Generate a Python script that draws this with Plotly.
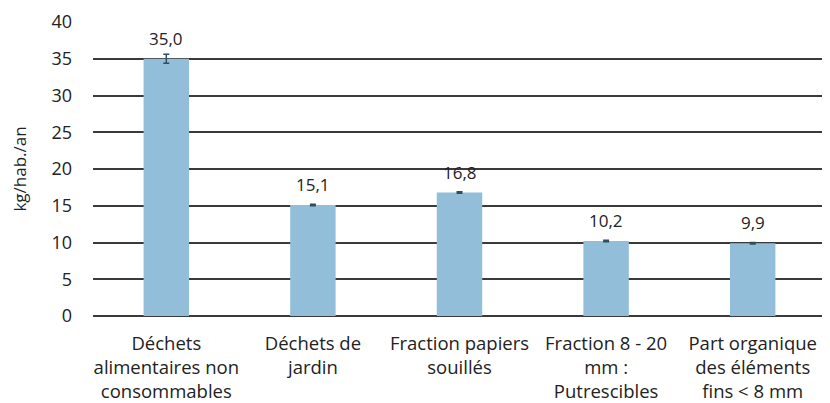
import plotly.graph_objects as go

categories = [
    "Déchets<br>alimentaires non<br>consommables",
    "Déchets de<br>jardin",
    "Fraction papiers<br>souillés",
    "Fraction 8 - 20<br>mm :<br>Putrescibles",
    "Part organique<br>des éléments<br>fins < 8 mm",
]
values = [35.0, 15.1, 16.8, 10.2, 9.9]
errors = [0.6, 0.1, 0.1, 0.1, 0.1]
y_ticks = [0, 5, 10, 15, 20, 25, 30, 35, 40]

FONT = "Open Sans"
TXT = "#222222"

fig = go.Figure()
fig.add_trace(go.Bar(
    x=categories,
    y=values,
    width=0.31,
    marker=dict(color="#92BEDA", line=dict(width=0)),
    error_y=dict(type="data", array=errors, visible=True, color="#2F4F5F",
                 thickness=1.5, width=3),
    hoverinfo="skip",
))

for c, v in zip(categories, values):
    fig.add_annotation(x=c, y=v, text=f"{v:.1f}".replace(".", ","),
                       showarrow=False, yanchor="bottom", yshift=7,
                       font=dict(family=FONT, size=17, color=TXT))

fig.update_layout(
    width=822, height=395,
    margin=dict(l=85, r=4, t=14, b=87, autoexpand=False),
    paper_bgcolor="white", plot_bgcolor="white",
    showlegend=False,
    font=dict(family=FONT, size=17, color=TXT),
)
fig.update_xaxes(showgrid=False, showline=False, ticks="", tickangle=0,
                 automargin=False, ticklabelstandoff=14,
                 tickfont=dict(family=FONT, size=18.5, color=TXT))
fig.update_yaxes(range=[0, 40], tickvals=y_ticks, showgrid=True,
                 gridcolor="#3a3a3a", gridwidth=1.5, zeroline=True,
                 zerolinecolor="#3a3a3a", zerolinewidth=1.5,
                 showline=False, ticks="", ticklabelstandoff=20,
                 automargin=False,
                 tickfont=dict(family=FONT, size=18, color=TXT),
                 title=dict(text="kg/hab./an", standoff=22,
                            font=dict(family=FONT, size=17, color=TXT)))

fig.write_html("out.html")
